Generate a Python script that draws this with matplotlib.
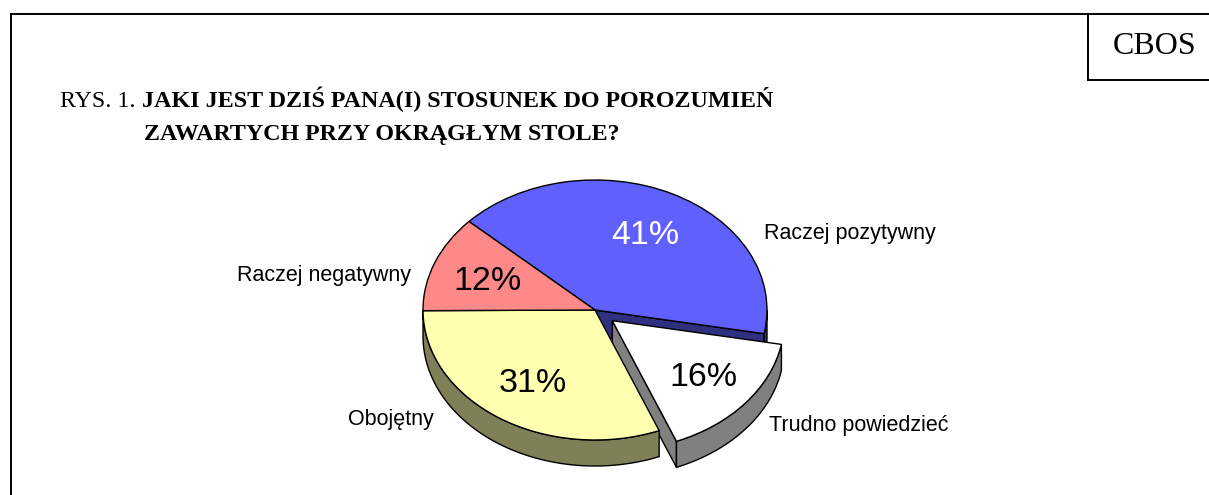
import numpy as np
import matplotlib
matplotlib.use("Agg")
import matplotlib.pyplot as plt
from matplotlib.patches import Polygon

# kolejnosc jak na wykresie, zgodnie z ruchem wskazowek
kategorie = ["Raczej pozytywny", "Trudno powiedzieć", "Obojętny", "Raczej negatywny"]
wartosci = [41, 16, 31, 12]
wysuniecie = [0, 0.13, 0, 0]
kolory = ["#6060ff", "#ffffff", "#ffffb0", "#ff8888"]
kolory_boku = ["#303080", "#808080", "#808058", "#804444"]

W, H = 1209, 495
CX, CY = 595, 310
RX, RY = 172, 130
GLEB = 26 / RY

fig = plt.figure(figsize=(W / 100, H / 100), dpi=100)

# os kolowa, rozciagnieta zeby kolo bylo elipsa
ax = fig.add_axes([0, 0, 1, 1])
wedges, _ = ax.pie(wartosci, colors=kolory, startangle=137.1, counterclock=False,
                   explode=wysuniecie, radius=1,
                   wedgeprops=dict(edgecolor="black", linewidth=1.0))
ax.set_aspect("auto")
ax.set_xlim(-CX / RX, (W - CX) / RX)
ax.set_ylim((CY - H) / RY, CY / RY)


def bok(w, kolor, z):
    # sciana pod wycinkiem: luk i ew. ciecia, tylko to co widac od przodu
    t1, t2 = w.theta1, w.theta2
    cx, cy = w.center
    if t1 > 0:
        t1 -= 360
        t2 -= 360
    a = max(t1, -180)
    b = min(t2, 0)
    if b > a:
        th = np.radians(np.linspace(a, b, 80))
        x = cx + np.cos(th)
        y = cy + np.sin(th)
        pts = np.r_[np.c_[x, y], np.c_[x, y - GLEB][::-1]]
        ax.add_patch(Polygon(pts, closed=True, fc=kolor, ec="black", lw=1.0, zorder=z))


def sciana(w, kat, kolor, z):
    # plaska sciana ciecia od srodka do krawedzi
    cx, cy = w.center
    x = cx + np.cos(np.radians(kat))
    y = cy + np.sin(np.radians(kat))
    pts = [(cx, cy), (x, y), (x, y - GLEB), (cx, cy - GLEB)]
    ax.add_patch(Polygon(pts, closed=True, fc=kolor, ec="black", lw=1.0, zorder=z))


poz, trudno, oboj, neg = wedges

# od tylu do przodu
sciana(poz, poz.theta1, kolory_boku[0], 1)
bok(poz, kolory_boku[0], 1)
poz.set_zorder(2)
sciana(trudno, trudno.theta1, kolory_boku[1], 3)
bok(trudno, kolory_boku[1], 3)
trudno.set_zorder(4)
bok(oboj, kolory_boku[2], 5)
oboj.set_zorder(6)
neg.set_zorder(6)

# os pikselowa na tekst i ramke
top = fig.add_axes([0, 0, 1, 1], facecolor="none")
top.set_xlim(0, W)
top.set_ylim(H, 0)
top.axis("off")

for xs, ys in [([11, 11], [H, 14]), ([11, W], [14, 14]),
               ([1088, 1088], [14, 80]), ([1088, W], [80, 80])]:
    top.plot(xs, ys, color="black", lw=1.4, solid_capstyle="projecting")

serif = "Liberation Serif"
arial = "Liberation Sans"
top.text(1155, 46, "CBOS", family=serif, fontsize=23, ha="center", va="center")
top.text(60, 107, "RYS. 1.", family=serif, fontsize=17.3, va="baseline")
top.text(142, 107, "JAKI JEST DZIŚ PANA(I) STOSUNEK DO POROZUMIEŃ", family=serif,
         fontsize=17.3, weight="bold", va="baseline")
top.text(144, 140, "ZAWARTYCH PRZY OKRĄGŁYM STOLE?", family=serif,
         fontsize=17.3, weight="bold", va="baseline")

pozycje_proc = [(645, 235), (703, 378), (533, 383), (488, 282)]
kolory_proc = ["white", "black", "black", "black"]
for v, (x, y), c in zip(wartosci, pozycje_proc, kolory_proc):
    top.text(x, y, f"{v}%", family=arial, fontsize=24.5, color=c, ha="center", va="center")

pozycje_opis = [(764, 234), (769, 425), (348, 419), (237, 275)]
for k, (x, y) in zip(kategorie, pozycje_opis):
    top.text(x, y, k, family=arial, fontsize=15.5, ha="left", va="center")

fig.savefig("out.png", dpi=100)
